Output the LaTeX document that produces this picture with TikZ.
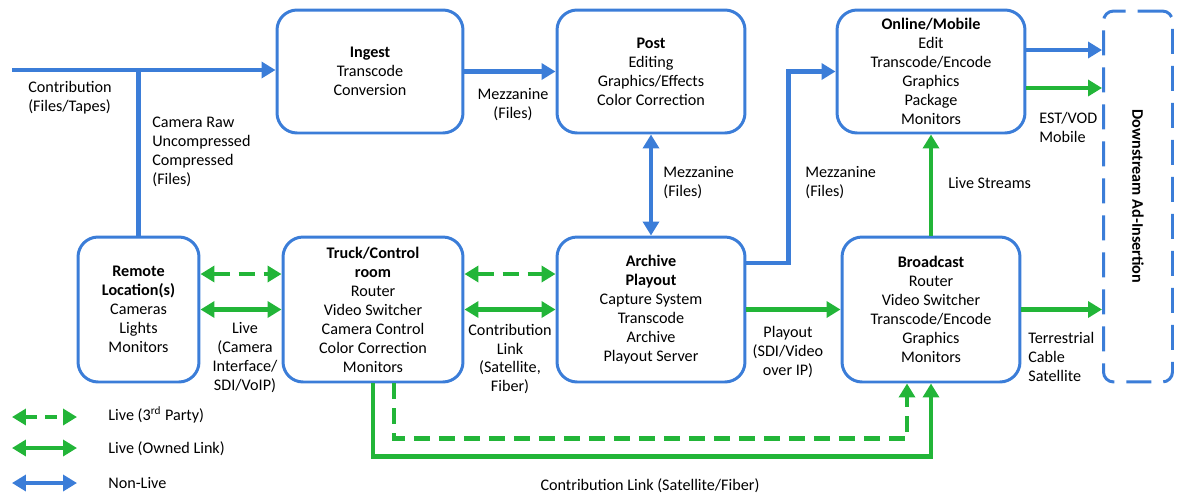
\documentclass[tikz,border=0pt]{standalone}
\usepackage{fontspec}
\setmainfont{Carlito}
\usepackage{xcolor}
\usepackage{tikz}
\usetikzlibrary{arrows.meta,positioning,calc}
\definecolor{linkblue}{RGB}{59,125,216}
\definecolor{linkgreen}{RGB}{34,181,56}
\tikzset{
	>={Triangle[length=0.28cm,width=0.32cm]},
	every node/.append style={font=\fontsize{9.2}{10.8}\selectfont},
	stage/.style = {
			draw            = linkblue,
			line width      = 1.7pt,
			rounded corners = 0.4cm,
			align           = center,
			inner sep       = 0pt,
		},
	nonlive/.style = {draw=linkblue, line width=2.3pt},
	owned/.style = {draw=linkgreen, line width=2.3pt},
	thirdparty/.style = {draw=linkgreen, line width=2.3pt, dash pattern=on 0.32cm off 0.18cm},
	note/.style = {inner sep=0pt, align=left, anchor=west},
}

\begin{document}
\begin{tikzpicture}[x=0.02cm, y=-0.02cm]
	\useasboundingbox (0,0) rectangle (1181,495);

	% stages
	\node[stage, minimum width=3.72cm, minimum height=2.46cm] (ingest) at (370,71.5) {\textbf{Ingest}\\Transcode\\Conversion};
	\node[stage, minimum width=3.76cm, minimum height=2.46cm] (post) at (651,71.5) {\textbf{Post}\\Editing\\Graphics/Effects\\Color Correction};
	\node[stage, minimum width=3.76cm, minimum height=2.46cm] (online) at (931,71.5) {\textbf{Online/Mobile}\\Edit\\Transcode/Encode\\Graphics\\Package\\Monitors};
	\node[stage, minimum width=2.42cm, minimum height=2.9cm] (remote) at (138.5,309.5) {\textbf{Remote}\\\textbf{Location(s)}\\Cameras\\Lights\\Monitors};
	\node[stage, minimum width=3.6cm, minimum height=2.9cm] (truck) at (373,309.5) {\textbf{Truck/Control}\\\textbf{room}\\Router\\Video Switcher\\Camera Control\\Color Correction\\Monitors};
	\node[stage, minimum width=3.76cm, minimum height=2.9cm] (archive) at (651,309.5) {\textbf{Archive}\\\textbf{Playout}\\Capture System\\Transcode\\Archive\\Playout Server};
	\node[stage, minimum width=3.56cm, minimum height=2.9cm] (broadcast) at (931,309.5) {\textbf{Broadcast}\\Router\\Video Switcher\\Transcode/Encode\\Graphics\\Monitors};
	\node[stage, rounded corners=0.2cm, dash pattern=on 0.5cm off 0.24cm, minimum width=1.38cm, minimum height=7.42cm] (downstream) at (1138,196.5) {};
	\node[rotate=-90] (adinsertion) at (downstream.center) {\textbf{Downstream Ad-Insertion}};

	% file flows
	\coordinate (contrib) at (12,70);
	\draw[nonlive,->] (contrib) -- (contrib -| ingest.west);
	\draw[nonlive] (remote.north) -- (remote.north |- contrib);
	\draw[nonlive,->] (ingest.east) -- (post.west);
	\draw[nonlive,<->] (post.south) -- (archive.north);
	\draw[nonlive,->] ([yshift=0.93cm]archive.east) -- ++(42,0) |- (online.west);
	\coordinate (vod) at ([yshift=0.43cm]online.east);
	\coordinate (est) at ([yshift=-0.33cm]online.east);
	\draw[nonlive,->] (vod) -- (vod -| downstream.west);
	\draw[owned,->] (est) -- (est -| downstream.west);

	% live flows
	\draw[owned,->] (broadcast.north) -- (online.south);
	\draw[thirdparty,<->] ([yshift=0.71cm]remote.east) -- ([yshift=0.71cm]truck.west);
	\draw[owned,<->] (remote.east) -- (truck.west);
	\draw[thirdparty,<->] ([yshift=0.71cm]truck.east) -- ([yshift=0.71cm]archive.west);
	\draw[owned,<->] (truck.east) -- (archive.west);
	\draw[owned,->] (archive.east) -- (broadcast.west);
	\draw[owned,->] (broadcast.east) -- (broadcast.east -| downstream.west);
	\draw[owned,->] (truck.south) -- ++(0,73) -| (broadcast.south);
	\draw[thirdparty,->] ([xshift=0.42cm]truck.south) -- ++(0,55) -| ([xshift=-0.48cm]broadcast.south);

	% labels
	\node[note] (lcontrib) at (28,98) {Contribution\\(Files/Tapes)};
	\node[note] (lcamera) at (152,152) {Camera Raw\\Uncompressed\\Compressed\\(Files)};
	\node[note, anchor=center, align=center] (lmezz1) at (513,105) {Mezzanine\\(Files)};
	\node[note] (lmezz2) at (663,183) {Mezzanine\\(Files)};
	\node[note] (lmezz3) at (805,183) {Mezzanine\\(Files)};
	\node[note] (lvod) at (1039,127) {EST/VOD\\Mobile};
	\node[note] (lstreams) at (948,183) {Live Streams};
	\node[note, anchor=center, align=center] (lcamlink) at (245,358) {Live\\(Camera\\Interface/\\SDI/VoIP)};
	\node[note, anchor=center, align=center] (lsatlink) at (510,359) {Contribution\\Link\\(Satellite,\\Fiber)};
	\node[note, anchor=center, align=center] (lplayout) at (788,352) {Playout\\(SDI/Video\\over IP)};
	\node[note] (ldelivery) at (1028,357) {Terrestrial\\Cable\\Satellite};
	\node[note, anchor=center] (lbottom) at (650,486) {Contribution Link (Satellite/Fiber)};

	% legend
	\coordinate (k1a) at (12,417); \coordinate (k1b) at (77,417);
	\coordinate (k2a) at (12,448); \coordinate (k2b) at (77,448);
	\coordinate (k3a) at (12,483); \coordinate (k3b) at (77,483);
	\draw[thirdparty,<->,dash pattern=on 0.24cm off 0.16cm] (k1a) -- (k1b);
	\draw[owned,<->] (k2a) -- (k2b);
	\draw[nonlive,<->] (k3a) -- (k3b);
	\node[note] (key1) at (108,415) {Live (3\textsuperscript{rd} Party)};
	\node[note] (key2) at (108,449) {Live (Owned Link)};
	\node[note] (key3) at (108,483) {Non-Live};

\end{tikzpicture}
\end{document}
